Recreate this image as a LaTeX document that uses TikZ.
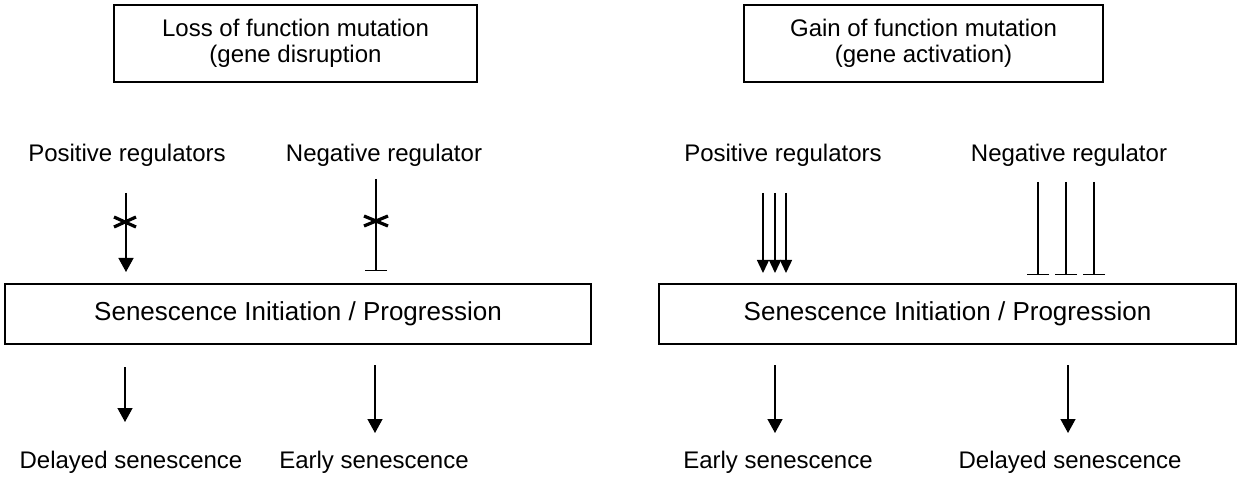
\documentclass[tikz,border=0pt]{standalone}
\usepackage{fontspec}
\setmainfont{Liberation Sans}
\usetikzlibrary{arrows.meta}
\begin{document}
\begin{tikzpicture}[x=1pt,y=-1pt,
  box/.style={draw, line width=1.4pt, inner sep=0pt, align=center},
  lab/.style={anchor=base, inner sep=0pt, font=\fontsize{24}{28}\selectfont},
  conn/.style={line width=1.4pt},
  arr/.style={conn, -{Triangle[width=15pt,length=14pt]}},
  arrs/.style={conn, -{Triangle[width=12pt,length=13pt]}},
  inhib/.style={conn, -{Bar[width=22pt,line width=1.4pt]}},
  crossmark/.style={line width=3.2pt}
]
\useasboundingbox (0,0) rectangle (1243,481);

% top boxes
\node[box, minimum width=363pt, minimum height=77pt, font=\fontsize{24}{25.5}\selectfont] (lossbox) at (295.5,43.5)
  {Loss of function mutation\\(gene disruption};
\node[box, minimum width=359pt, minimum height=77pt, font=\fontsize{24}{25.5}\selectfont] (gainbox) at (923.5,43.5)
  {Gain of function mutation\\(gene activation)};

% labels
\node[lab] (posL) at (127,162) {Positive regulators};
\node[lab] (negL) at (384,162) {Negative regulator};
\node[lab] (posR) at (783,162) {Positive regulators};
\node[lab] (negR) at (1069,162) {Negative regulator};

% middle boxes
\node[box, minimum width=586pt, minimum height=60pt, font=\fontsize{26}{30}\selectfont] (senL) at (298,314)
  {Senescence Initiation / Progression};
\node[box, minimum width=577pt, minimum height=60pt, font=\fontsize{26}{30}\selectfont] (senR) at (947.5,314)
  {Senescence Initiation / Progression};

% bottom labels
\node[lab] (delL) at (131,468) {Delayed senescence};
\node[lab] (earL) at (374,468) {Early senescence};
\node[lab] (earR) at (778,468) {Early senescence};
\node[lab] (delR) at (1070,468) {Delayed senescence};

% coordinates for connectors
\coordinate (pL1) at (126,193); \coordinate (pL2) at (126,272);
\coordinate (nL1) at (376,179); \coordinate (nL2) at (376,271);
\coordinate (pR1a) at (763,193); \coordinate (pR2a) at (763,273);
\coordinate (pR1b) at (775,193); \coordinate (pR2b) at (775,273);
\coordinate (pR1c) at (786,193); \coordinate (pR2c) at (786,273);
\coordinate (nR1a) at (1038,182); \coordinate (nR2a) at (1038,275);
\coordinate (nR1b) at (1066,182); \coordinate (nR2b) at (1066,275);
\coordinate (nR1c) at (1094,182); \coordinate (nR2c) at (1094,275);

\coordinate (dL1) at (125,367); \coordinate (dL2) at (125,422);
\coordinate (eL1) at (375,365); \coordinate (eL2) at (375,433);
\coordinate (eR1) at (775,365); \coordinate (eR2) at (775,433);
\coordinate (dR1) at (1068,365); \coordinate (dR2) at (1068,433);

% top-left connectors with crosses
\draw[arr] (pL1) -- (pL2);
\draw[inhib] (nL1) -- (nL2);
\coordinate (xL) at (125,222);
\coordinate (xN) at (376,221);
\draw[crossmark] ([shift={(-11,-5)}]xL) -- ([shift={(11,5)}]xL);
\draw[crossmark] ([shift={(-11,5)}]xL) -- ([shift={(11,-5)}]xL);
\draw[crossmark] ([shift={(-12,-5)}]xN) -- ([shift={(12,5)}]xN);
\draw[crossmark] ([shift={(-12,5)}]xN) -- ([shift={(12,-5)}]xN);

% top-right connectors
\draw[arrs] (pR1a) -- (pR2a);
\draw[arrs] (pR1b) -- (pR2b);
\draw[arrs] (pR1c) -- (pR2c);
\draw[inhib] (nR1a) -- (nR2a);
\draw[inhib] (nR1b) -- (nR2b);
\draw[inhib] (nR1c) -- (nR2c);

% bottom connectors
\draw[arr] (dL1) -- (dL2);
\draw[arr] (eL1) -- (eL2);
\draw[arr] (eR1) -- (eR2);
\draw[arr] (dR1) -- (dR2);
\end{tikzpicture}
\end{document}
